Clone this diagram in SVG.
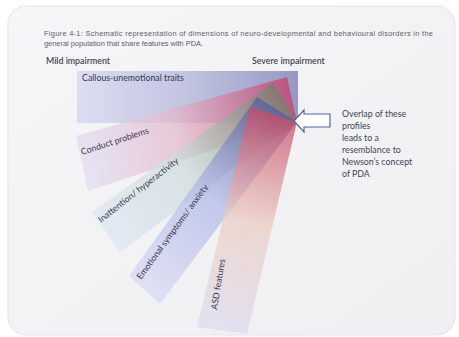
<svg xmlns="http://www.w3.org/2000/svg" width="459" height="337" viewBox="0 0 459 337">
<style>
.cap{font-family:"Liberation Sans",Arial,sans-serif;font-size:7.4px;fill:#606068}
.hd{font-family:Lato,"Open Sans",sans-serif;font-size:8.8px;font-weight:600;fill:#45464e}
.lb{font-family:Lato,"Open Sans",sans-serif;font-size:8.8px;fill:#343a50}
.nt{font-family:Lato,"Open Sans",sans-serif;font-size:8.8px;fill:#424656}
.band{opacity:0.75}
</style>
<defs>
<linearGradient id="page" x1="0" y1="0" x2="1" y2="1">
<stop offset="0" stop-color="#f6f6f8"/><stop offset="1" stop-color="#efeff2"/>
</linearGradient>
<linearGradient id="gCU" gradientUnits="userSpaceOnUse" x1="77" y1="97" x2="298" y2="97">
<stop offset="0" stop-color="#dcdcf1"/><stop offset="0.5" stop-color="#bfc1df"/><stop offset="1" stop-color="#9094c0"/>
</linearGradient>
<linearGradient id="gCP" gradientUnits="userSpaceOnUse" x1="82" y1="163" x2="292" y2="100">
<stop offset="0" stop-color="#e2ddf2"/><stop offset="0.45" stop-color="#e4bace"/><stop offset="1" stop-color="#c4406a"/>
</linearGradient>
<linearGradient id="gIH" gradientUnits="userSpaceOnUse" x1="106" y1="232" x2="285" y2="102">
<stop offset="0" stop-color="#dde6f3"/><stop offset="0.45" stop-color="#cfdcdc"/><stop offset="1" stop-color="#718268"/>
</linearGradient>
<linearGradient id="gES" gradientUnits="userSpaceOnUse" x1="144" y1="290" x2="277" y2="110">
<stop offset="0" stop-color="#dadaf3"/><stop offset="0.5" stop-color="#b2bbe8"/><stop offset="1" stop-color="#585b9e"/>
</linearGradient>
<linearGradient id="gASD" gradientUnits="userSpaceOnUse" x1="222" y1="330" x2="273" y2="115">
<stop offset="0" stop-color="#dddcf0"/><stop offset="0.5" stop-color="#ebcdc2"/><stop offset="1" stop-color="#c84c68"/>
</linearGradient>
</defs>
<rect width="459" height="337" fill="#ffffff"/>
<rect x="8" y="6" width="447" height="329" rx="18" fill="url(#page)" stroke="#e2e3ea" stroke-width="1"/>
<g id="caption">
<text class="cap" x="44" y="36" textLength="389" lengthAdjust="spacing">Figure 4-1: Schematic representation of dimensions of neuro-developmental and behavioural disorders in the</text>
<text class="cap" x="44" y="46">general population that share features with PDA.</text>
</g>
<g id="axis">
<text class="hd" x="46" y="64">Mild impairment</text>
<text class="hd" x="252" y="64">Severe impairment</text>
</g>
<g id="callous">
<rect x="77" y="71" width="221" height="52" fill="url(#gCU)" opacity="0.95"/>
<text class="lb" x="82" y="81">Callous-unemotional  traits</text>
</g>
<g id="conduct">
<polygon class="band" points="76,136 287,77 297,122 88,191" fill="url(#gCP)"/>
<text class="lb" transform="translate(82,155) rotate(-18)">Conduct problems</text>
</g>
<g id="inattention">
<polygon class="band" points="92,212 273,83 297,122 120,252" fill="url(#gIH)"/>
<text class="lb" transform="translate(101,223) rotate(-38)">Inattention/ hyperactivity</text>
</g>
<g id="emotional">
<polygon class="band" points="129,276 257,97 297,122 160,304" fill="url(#gES)"/>
<text class="lb" transform="translate(141,280) rotate(-54)">Emotional  symptoms/  anxiety</text>
</g>
<g id="asd">
<polygon class="band" points="197,327 250,107 297,122 247,334" fill="url(#gASD)"/>
<text class="lb" transform="translate(217,310) rotate(-81)">ASD features</text>
</g>
<g id="connectors">
<polygon points="294,121 304,110 304,114 330,114 330,127 304,127 304,132" fill="#ffffff" stroke="#4d64a6" stroke-width="1.2" stroke-linejoin="miter"/>
</g>
<g id="note">
<text class="nt" x="342" y="117">Overlap of these</text>
<text class="nt" x="342" y="129">profiles</text>
<text class="nt" x="342" y="141">leads to a</text>
<text class="nt" x="342" y="153">resemblance to</text>
<text class="nt" x="342" y="165">Newson’s concept</text>
<text class="nt" x="342" y="177">of PDA</text>
</g>
</svg>
